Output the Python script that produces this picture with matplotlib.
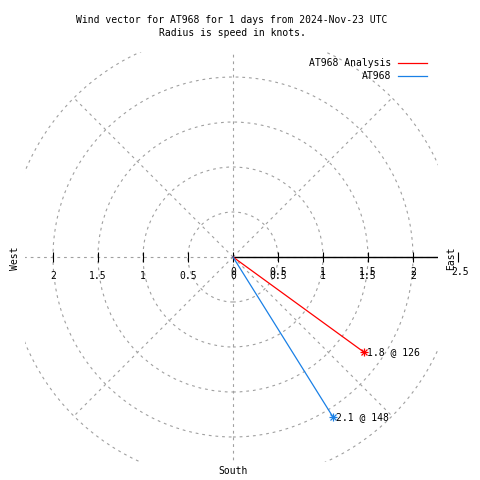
import numpy as np
from matplotlib import pyplot as plt
from matplotlib.patches import Circle

# donnees
noms = ["AT968 Analysis", "AT968"]
vitesses = [1.8, 2.1]          # noeuds
directions = [126, 148]        # degres, 0 = nord, sens horaire
couleurs = ["#ff0000", "#1a80e6"]

rayons_grille = [0.5, 1, 1.5, 2, 2.5]
angles_grille = [0, 45, 90, 135, 180, 225, 270, 315]
ticks_est = [0, 0.5, 1, 1.5, 2]
labels_est = ["0", "0.5", "1", "1.5", "2"]
ticks_ouest = [-2, -1.5, -1, -0.5]
labels_ouest = ["2", "1.5", "1", "0.5"]
rmax = 2.5

plt.rcParams['font.family'] = ['DejaVu Sans Mono']
fs = 7
gris = "#a0a0a0"

fig = plt.figure(figsize=(4.8, 4.8), dpi=100)
ax = fig.add_axes([25/480, 18/480, 413/480, 410/480])
ax.set_xlim(-2.311, 2.278)
ax.set_ylim(-2.278, 2.278)
ax.axis('off')

# grille polaire
for r in rayons_grille:
    ax.add_patch(Circle((0, 0), r, fill=False, ec=gris, lw=0.8, ls=(0, (2.5, 3.5))))
for a in angles_grille:
    t = np.radians(a)
    ax.plot([0, rmax*np.sin(t)], [0, rmax*np.cos(t)], color=gris, lw=0.8, ls=(0, (2.5, 3.5)))

# axe horizontal
ax.plot([0, rmax], [0, 0], color="black", lw=1)
ax.plot(ticks_est + [rmax], [0]*(len(ticks_est)+1), '|', color="black", ms=7, mew=0.8, clip_on=False)
ax.plot(ticks_ouest, [0]*len(ticks_ouest), '|', color="black", ms=7, mew=0.8)
# les labels est sont imprimes deux fois, decales (comme sur l'original)
for x, lab in zip(ticks_est, labels_est):
    ax.annotate(lab, (x, 0), xytext=(0, -15), textcoords='offset pixels', ha='center', va='center', fontsize=fs)
    ax.annotate(lab, (x, 0), xytext=(0, -19), textcoords='offset pixels', ha='center', va='center', fontsize=fs)
ax.annotate("2.5", (rmax, 0), xytext=(2, -15), textcoords='offset pixels', ha='center', va='center', fontsize=fs, annotation_clip=False)
for x, lab in zip(ticks_ouest, labels_ouest):
    ax.annotate(lab, (x, 0), xytext=(0, -19), textcoords='offset pixels', ha='center', va='center', fontsize=fs)

# vecteurs
for nom, v, d, c in zip(noms, vitesses, directions, couleurs):
    t = np.radians(d)
    x, y = v*np.sin(t), v*np.cos(t)
    ax.plot([0, x], [0, y], color=c, lw=0.9, label=nom)
    ax.plot([x], [y], '+', color=c, ms=6, mew=0.9)
    ax.plot([x], [y], 'x', color=c, ms=5, mew=0.9)
    ax.annotate("%.1f @ %d" % (v, d), (x, y), xytext=(3, 0), textcoords='offset pixels', ha='left', va='center', fontsize=fs)

# points cardinaux
fig.text(15/480, 1-258/480, "West", rotation=90, ha='center', va='center', fontsize=fs)
fig.text(451/480, 1-258/480, "East", rotation=90, ha='center', va='center', fontsize=fs)
fig.text(233/480, 1-471/480, "South", ha='center', va='center', fontsize=fs)

fig.text(232/480, 1-20/480, "Wind vector for AT968 for 1 days from 2024-Nov-23 UTC", ha='center', va='center', fontsize=fs)
fig.text(232/480, 1-33/480, "Radius is speed in knots.", ha='center', va='center', fontsize=fs)

ax.legend(loc='upper right', bbox_to_anchor=(427/480, 1-58/480), bbox_transform=fig.transFigure,
          frameon=False, markerfirst=False, fontsize=fs, handlelength=3, handletextpad=0.7,
          labelspacing=0.35, borderpad=0, borderaxespad=0)

plt.savefig("out.png", dpi=100)
